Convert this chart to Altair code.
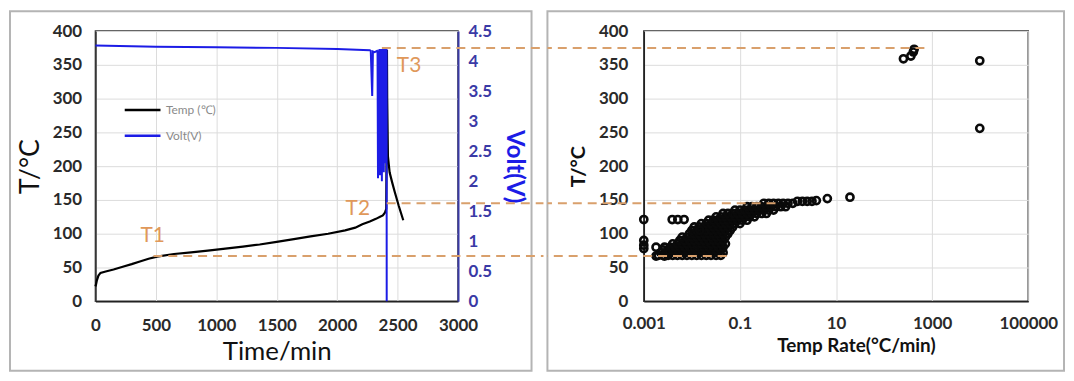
import altair as alt
import pandas as pd

# ---------------- left panel: temperature and voltage vs time ----------------
time_min = [0, 5, 12, 25, 42, 85, 150, 226, 300, 368, 440, 510, 650, 792, 930, 1075,
            1220, 1359, 1500, 1642, 1780, 1925, 2066, 2150, 2208, 2270, 2321, 2355,
            2378, 2395, 2406, 2410, 2412, 2414, 2420, 2434, 2455, 2476, 2510, 2547]
temp_c = [22, 25, 31, 38, 42, 44, 47, 51, 55, 59, 63, 66, 70, 72.5, 75, 78,
          81, 84, 88, 92, 96, 100, 105, 109, 114, 118, 122, 125,
          127, 131, 137, 250, 372, 300, 215, 191, 176, 162, 141, 120]

volt_time_min = [0, 500, 1000, 1500, 2000, 2270, 2278, 2290, 2296, 2310, 2330, 2334,
                 2338, 2342, 2346, 2350, 2354, 2358, 2362, 2366, 2370, 2374, 2378,
                 2382, 2386, 2390, 2394, 2398, 2402, 2405, 2408, 2409, 2410]
volt_v = [4.26, 4.24, 4.23, 4.22, 4.20, 4.18, 4.17, 3.42, 4.16, 4.15, 4.17, 4.15,
          2.05, 4.18, 2.30, 4.20, 2.10, 4.19, 2.40, 4.20, 2.00, 4.18, 2.25,
          4.20, 2.15, 4.19, 2.45, 4.20, 2.30, 4.18, 2.60, 4.20, 0.0]

series_names = ["Temp (\u2103)", "Volt(V)"]

# ---------------- characteristic temperatures ----------------
mark_labels = ["T1", "T2", "T3"]
mark_temp = [67, 145, 375]
mark_start_time = [480, 2410, 2370]
mark_end_rate = [0.053, 0.55, 690]
label_time = [473, 2171, 2595]
label_temp = [96, 136, 348]

# ---------------- right panel: temperature vs temperature rate ----------------
outlier_rate = [0.001, 0.001, 0.001, 0.001, 0.0018, 0.0027, 0.0018, 0.0027,
                0.0039, 0.0051, 0.0069, 0.0146, 3.9, 6.6, 19.5,
                253, 361, 406, 422, 9800, 9800]
outlier_temp = [121, 90, 83, 78, 80, 80, 67, 67,
                121, 121, 121, 105, 149, 152, 154,
                359, 363, 369, 373, 356, 256]

dense_rows = [
    (68, [0.0020, 0.0025, 0.0032, 0.0040, 0.0050, 0.0063, 0.0079, 0.010, 0.0126, 0.0158, 0.020, 0.025, 0.032, 0.040]),
    (72, [0.00224, 0.00282, 0.00355, 0.00447, 0.00562, 0.00708, 0.00891, 0.0112, 0.0141, 0.0178, 0.0224, 0.0282, 0.0355, 0.0447]),
    (76, [0.0025, 0.0032, 0.0040, 0.0050, 0.0063, 0.0079, 0.010, 0.0126, 0.0158, 0.020, 0.025, 0.032, 0.040]),
    (80, [0.00355, 0.00447, 0.00562, 0.00708, 0.00891, 0.0112, 0.0141, 0.0178, 0.0224, 0.0282, 0.0355, 0.0447]),
    (85, [0.0040, 0.0050, 0.0063, 0.0079, 0.010, 0.0126, 0.0158, 0.020, 0.025, 0.032, 0.040, 0.050]),
    (90, [0.00562, 0.00708, 0.00891, 0.0112, 0.0141, 0.0178, 0.0224, 0.0282, 0.0355, 0.0447]),
    (95, [0.0063, 0.0079, 0.010, 0.0126, 0.0158, 0.020, 0.025, 0.032, 0.040, 0.050]),
    (100, [0.00891, 0.0112, 0.0141, 0.0178, 0.0224, 0.0282, 0.0355, 0.0447, 0.0562]),
    (105, [0.010, 0.0126, 0.0158, 0.020, 0.025, 0.032, 0.040, 0.050, 0.063]),
    (110, [0.0112, 0.0141, 0.0178, 0.0224, 0.0282, 0.0355, 0.0447, 0.0562, 0.0708]),
    (115, [0.0158, 0.020, 0.025, 0.032, 0.040, 0.050, 0.063, 0.079, 0.100]),
    (120, [0.0224, 0.0282, 0.0355, 0.0447, 0.0562, 0.0708, 0.0891, 0.112, 0.141]),
    (125, [0.032, 0.040, 0.050, 0.063, 0.079, 0.100, 0.126, 0.158, 0.200]),
    (130, [0.0447, 0.0562, 0.0708, 0.0891, 0.112, 0.141, 0.178, 0.224, 0.282, 0.355]),
    (135, [0.079, 0.100, 0.126, 0.158, 0.200, 0.251, 0.316, 0.398, 0.501]),
    (140, [0.141, 0.178, 0.224, 0.282, 0.355, 0.447, 0.562, 0.708, 0.891]),
    (145, [0.316, 0.398, 0.501, 0.631, 0.794, 1.00, 1.26]),
    (148, [1.58, 2.00, 2.51, 3.16]),
]

# ---------------- tables ----------------
temp_df = pd.DataFrame({"t": time_min, "v": temp_c, "s": series_names[0]})
volt_df = pd.DataFrame({"t": volt_time_min, "v": volt_v, "s": series_names[1]})
marks_df = pd.DataFrame({"label": mark_labels, "temp": mark_temp, "start": mark_start_time,
                         "end": mark_end_rate, "lt": label_time, "lv": label_temp})
rows_r, rows_t = [], []
for tv, rates in dense_rows:
    for r in rates:
        rows_r.append(r)
        rows_t.append(tv)
scatter_df = pd.DataFrame({"rate": rows_r + outlier_rate, "temp": rows_t + outlier_temp})
one_row = pd.DataFrame({"k": [0]})

W1, W2, H = 365, 387, 272
LABEL_FONT = "Lato"
GRID = "#dcdcdc"
DASH_COLOR = "#d9a06c"
TEXT_ORANGE = "#e0985a"
BLUE = "#1c1ce6"
AXIS_BLUE = "#3a3aa6"
FRAME = "#b4b4b4"

common_axis = dict(labelFont=LABEL_FONT, labelFontSize=17, labelFontWeight="bold",
                   labelColor="#2a2a2a", labelFlush=False, ticks=False,
                   domainColor="#222222", domainWidth=1.5, gridColor=GRID,
                   titleFont=LABEL_FONT, titleColor="#111111")

time_axis = alt.Axis(values=list(range(0, 3001, 500)), format="d", title="Time/min",
                     titleFontSize=26, titleFontWeight="normal", labelPadding=16,
                     titlePadding=6, **common_axis)
temp_axis = alt.Axis(values=list(range(0, 401, 50)), format="d", title="T/\u00b0C",
                     titleFontSize=27, titleFontWeight="normal", labelPadding=14,
                     titlePadding=8, **common_axis)
volt_axis = alt.Axis(orient="right", values=[i * 0.5 for i in range(10)], format="~g",
                     title="Volt(V)", titleFontSize=24, titleFontWeight="bold",
                     titleColor=BLUE, titleFont=LABEL_FONT, labelFont=LABEL_FONT,
                     labelFontSize=17, labelFontWeight="bold", labelColor=AXIS_BLUE,
                     labelFlush=False, labelPadding=10, titlePadding=10, ticks=False,
                     grid=False, domainColor=AXIS_BLUE, domainWidth=2)

x_time = alt.X("t:Q", scale=alt.Scale(domain=[0, 3000], nice=False), axis=time_axis)
temp_scale = alt.Scale(domain=[0, 400], nice=False)

color = alt.Color(
    "s:N",
    scale=alt.Scale(domain=series_names, range=["#000000", BLUE]),
    legend=alt.Legend(title=None, orient="none", legendX=40, legendY=72,
                      symbolType="M-3,0H3", symbolSize=144, symbolStrokeWidth=2.5,
                      labelOffset=16, rowPadding=12, labelFont=LABEL_FONT,
                      labelFontSize=12, labelColor="#8a8a8a"),
)

left_frame = alt.Chart(one_row).mark_rect(fill=None, stroke=FRAME, strokeWidth=2).encode(
    x=alt.value(-86), x2=alt.value(W1 + 74), y=alt.value(-20), y2=alt.value(H + 70))

temp_line = alt.Chart(temp_df).mark_line(strokeWidth=2.2).encode(
    x=x_time, y=alt.Y("v:Q", scale=temp_scale, axis=temp_axis), color=color)

volt_line = alt.Chart(volt_df).mark_line(strokeWidth=2).encode(
    x=x_time, y=alt.Y("v:Q", scale=alt.Scale(domain=[0, 4.5], nice=False), axis=volt_axis),
    color=color)

left_rules = alt.Chart(marks_df).mark_rule(strokeDash=[9, 6], strokeWidth=2, color=DASH_COLOR).encode(
    x=alt.X("start:Q", scale=alt.Scale(domain=[0, 3000], nice=False), axis=time_axis),
    x2=alt.value(W1 + 86),
    y=alt.Y("temp:Q", scale=temp_scale, axis=None))

left_text = alt.Chart(marks_df).mark_text(font=LABEL_FONT, fontSize=21, color=TEXT_ORANGE,
                                          align="center", baseline="middle").encode(
    x=alt.X("lt:Q", scale=alt.Scale(domain=[0, 3000], nice=False), axis=time_axis),
    y=alt.Y("lv:Q", scale=temp_scale, axis=None),
    text="label:N")

left = alt.layer(left_frame, temp_line, volt_line, left_rules, left_text).resolve_scale(
    y="independent").properties(width=W1, height=H)

# ---------------- right panel ----------------
rate_axis = alt.Axis(values=[0.001, 0.1, 10, 1000, 100000], format="~g",
                     title="Temp Rate(\u00b0C/min)", titleFontSize=19, titleFontWeight="bold",
                     titleX=W2 / 2 + 20, labelPadding=14, titlePadding=6, **common_axis)
temp_axis_r = alt.Axis(values=list(range(0, 401, 50)), format="d", title="T/\u00b0C",
                       titleFontSize=20, titleFontWeight="bold", labelPadding=16,
                       titlePadding=10, **common_axis)
rate_scale = alt.Scale(type="log", domain=[0.001, 100000], nice=False)

right_frame = alt.Chart(one_row).mark_rect(fill=None, stroke=FRAME, strokeWidth=2).encode(
    x=alt.value(-97), x2=alt.value(W2 + 36), y=alt.value(-20), y2=alt.value(H + 70))

points = alt.Chart(scatter_df).mark_point(shape="circle", filled=False, size=52,
                                          strokeWidth=2.6, color="#0a0a0a", opacity=1).encode(
    x=alt.X("rate:Q", scale=rate_scale, axis=rate_axis),
    y=alt.Y("temp:Q", scale=temp_scale, axis=temp_axis_r))

right_rules = alt.Chart(marks_df).mark_rule(strokeDash=[9, 6], strokeWidth=2, color=DASH_COLOR).encode(
    x=alt.X("end:Q", scale=rate_scale, axis=rate_axis),
    x2=alt.value(-97),
    y=alt.Y("temp:Q", scale=temp_scale, axis=temp_axis_r))

right = alt.layer(right_frame, points, right_rules).properties(width=W2, height=H)

chart = alt.hconcat(left, right, spacing=0).resolve_scale(color="independent").configure_view(
    stroke="#333333", strokeWidth=1.5).properties(padding=0, background="white")

chart.save("out.html", embed_options={"renderer": "svg", "actions": False})
